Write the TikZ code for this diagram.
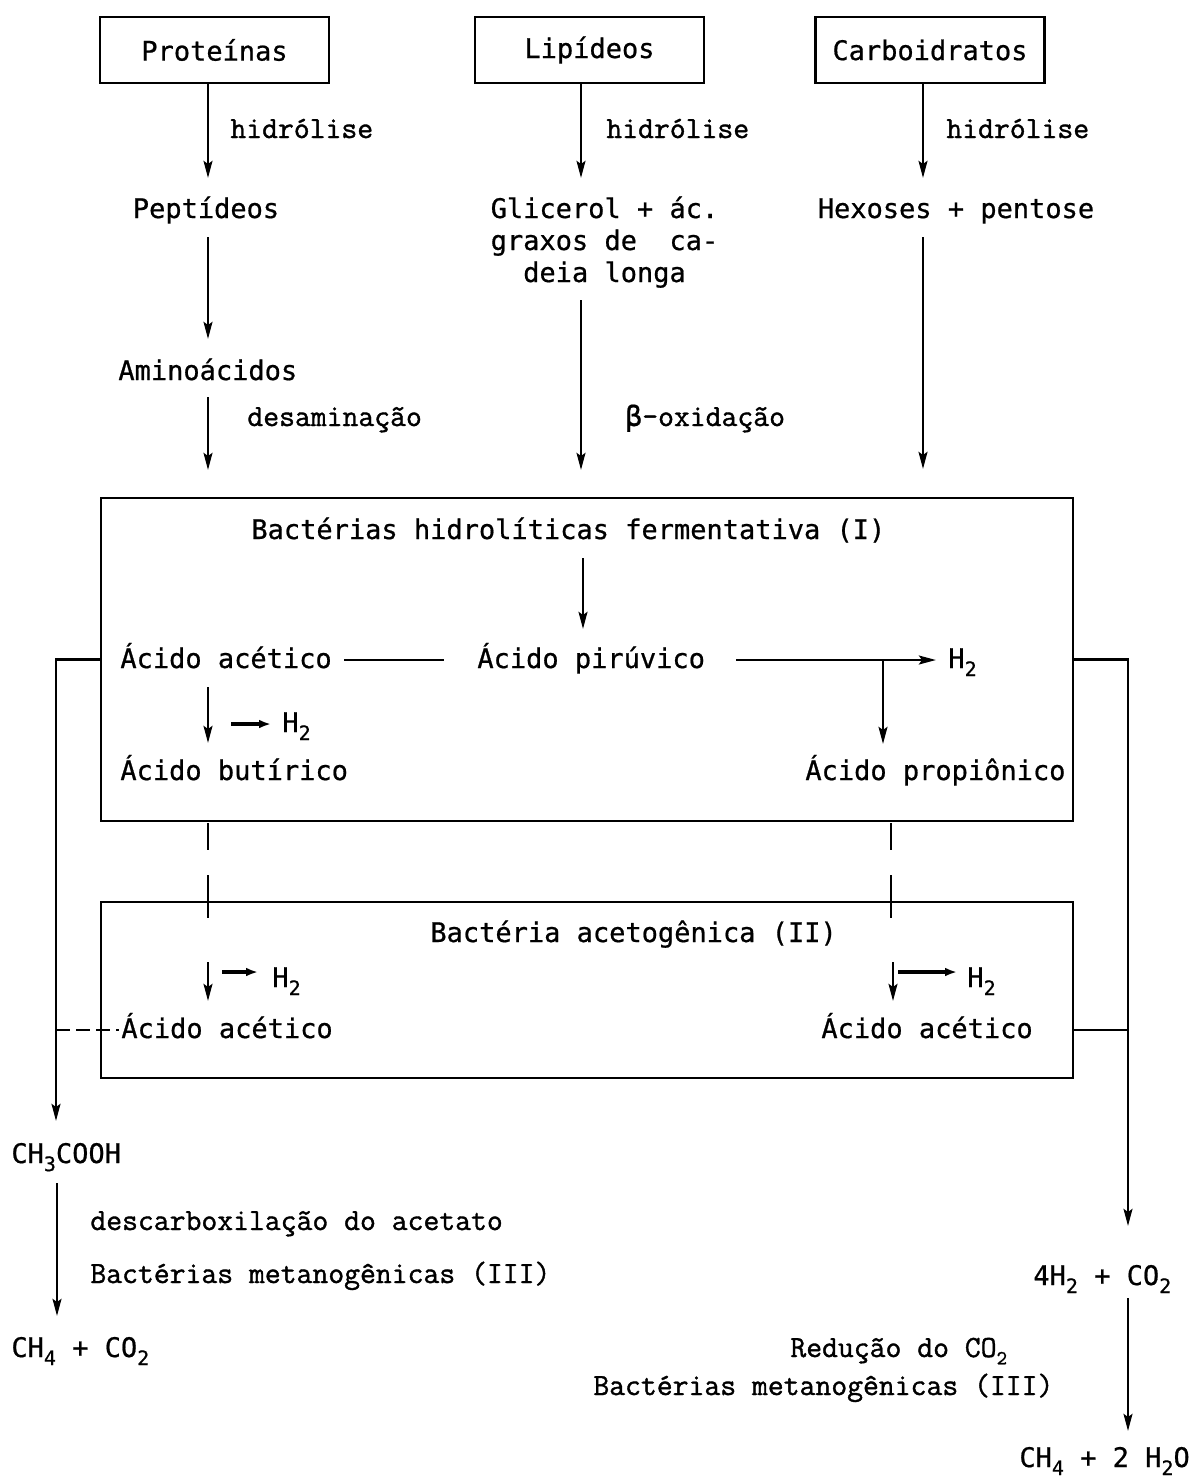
\documentclass[tikz,border=0pt]{standalone}
\usepackage{fontspec}
\newfontfamily\sansmono[FakeBold=0.7]{DejaVu Sans Mono}
\newfontfamily\serifmono[FakeBold=1.2]{Latin Modern Mono}
\usetikzlibrary{arrows.meta}
\newcommand\sbs[1]{\raisebox{-0.55ex}{\fontsize{10}{10}\selectfont #1}}
\newcommand\betachar{{\sansmono\fontsize{14}{16}\selectfont β}}
\begin{document}
\begin{tikzpicture}[x=0.5pt,y=-0.5pt,
  lbl/.style={inner sep=0pt,anchor=base west,font=\sansmono\fontsize{13.5}{16}\selectfont},
  clbl/.style={inner sep=0pt,anchor=base,font=\sansmono\fontsize{13.5}{16}\selectfont},
  slbl/.style={inner sep=0pt,anchor=base west,font=\serifmono\fontsize{15.4}{18}\selectfont},
  topbox/.style={draw,line width=1.3pt,minimum width=114.5pt,minimum height=33pt,inner sep=0pt,
    font=\sansmono\fontsize{13.5}{16}\selectfont},
  bigbox/.style={draw,line width=1.3pt,minimum width=486pt,inner sep=0pt},
  ln/.style={line width=1.3pt},
  arr/.style={line width=1.3pt,-{Stealth[length=8.5pt,width=4.4pt,inset=1.5pt]}},
  sarr/.style={line width=1.6pt,-{Latex[length=6pt,width=4.4pt]}},
  dsh/.style={line width=1.3pt,dash pattern=on 7pt off 3pt},
]
\useasboundingbox (0,0) rectangle (1198,1480);

% top boxes
\node[topbox] (prot) at (214.5,50) {Proteínas};
\node[topbox] (lip)  at (589.5,50) {Lipídeos};
\node[topbox] (carb) at (930,50) {Carboidratos};

% hydrolysis labels
\node[slbl] (h1) at (230,138) {hidrólise};
\node[slbl] (h2) at (606,138) {hidrólise};
\node[slbl] (h3) at (946,138) {hidrólise};

% second level
\node[clbl] (pep) at (206,218) {Peptídeos};
\node[clbl] (gl1) at (604.5,218) {Glicerol + ác.};
\node[clbl] (gl2) at (604.5,250) {graxos de\ \ ca-};
\node[clbl] (gl3) at (604.5,282) {deia longa};
\node[clbl] (hex) at (956,218) {Hexoses + pentose};

\node[lbl] (amino) at (118,380) {Aminoácidos};
\node[slbl] (desam) at (247,426) {desaminação};
\node[slbl] (boxi) at (625,426) {\betachar-oxidação};

% arrow coordinates
\coordinate (t1) at (208,178);
\coordinate (t2) at (581,178);
\coordinate (t3) at (923,178);
\draw[arr] (prot.south -| t1) -- (t1);
\draw[arr] (lip.south -| t2) -- (t2);
\draw[arr] (carb.south -| t3) -- (t3);

\coordinate (p1) at (208,237);
\coordinate (p2) at (208,339);
\draw[arr] (p1) -- (p2);
\coordinate (p3) at (208,397);
\coordinate (p4) at (208,470);
\draw[arr] (p3) -- (p4);
\coordinate (g1) at (581,300);
\coordinate (g2) at (581,470);
\draw[arr] (g1) -- (g2);
\coordinate (x1) at (923,237);
\coordinate (x2) at (923,469);
\draw[arr] (x1) -- (x2);

% Box I
\node[bigbox,minimum height=161.5pt] (b1) at (587,659.5) {};
\node[lbl] (bhf) at (251,539) {Bactérias hidrolíticas fermentativa (I)};
\coordinate (q1) at (583,558);
\coordinate (q2) at (583,629);
\draw[arr] (q1) -- (q2);

\node[lbl] (aac1) at (120,668) {Ácido acético};
\node[lbl] (apir) at (477,668) {Ácido pirúvico};
\node[lbl] (hA) at (948,668) {H\sbs{2}};
\coordinate (m1) at (344,660);
\coordinate (m2) at (444,660);
\draw[ln] (m1) -- (m2);
\coordinate (n1) at (736,660);
\coordinate (n2) at (936,660);
\draw[arr] (n1) -- (n2);
\coordinate (n3) at (883,660);
\coordinate (n4) at (883,744);
\draw[arr] (n3) -- (n4);
\node[lbl] (aprop) at (805,780) {Ácido propiônico};

\coordinate (u1) at (208,687);
\coordinate (u2) at (208,743);
\draw[arr] (u1) -- (u2);
\coordinate (u3) at (231,724);
\coordinate (u4) at (271,724);
\draw[sarr] (u3) -- (u4);
\node[lbl] (hB) at (282,732) {H\sbs{2}};
\node[lbl] (abut) at (120,780) {Ácido butírico};

% dashed links between boxes
\coordinate (d1) at (208,823);
\coordinate (d2) at (208,850);
\coordinate (d3) at (208,875);
\coordinate (d4) at (208,918);
\draw[ln] (d1) -- (d2) (d3) -- (d4);
\coordinate (e1) at (891,823);
\coordinate (e2) at (891,850);
\coordinate (e3) at (891,875);
\coordinate (e4) at (891,918);
\draw[ln] (e1) -- (e2) (e3) -- (e4);

% Box II
\node[bigbox,minimum height=88pt] (b2) at (587,990) {};
\node[lbl] (bac) at (430,942) {Bactéria acetogênica (II)};
\coordinate (v1) at (208,962);
\coordinate (v2) at (208,1001);
\draw[arr] (v1) -- (v2);
\coordinate (v3) at (222,972);
\coordinate (v4) at (258,972);
\draw[sarr] (v3) -- (v4);
\node[lbl] (hC) at (272,987) {H\sbs{2}};
\node[lbl] (aac2) at (121,1038) {Ácido acético};

\coordinate (w1) at (893,962);
\coordinate (w2) at (893,1001);
\draw[arr] (w1) -- (w2);
\coordinate (w3) at (898,972);
\coordinate (w4) at (957,972);
\draw[sarr] (w3) -- (w4);
\node[lbl] (hD) at (967,987) {H\sbs{2}};
\node[lbl] (aac3) at (821,1038) {Ácido acético};

% left collector
\coordinate (lc) at (56,659.5);
\coordinate (lt) at (56,1121);
\draw[arr] (b1.west) -- (lc) -- (lt);
\coordinate (ld1) at (56,1030);
\coordinate (ld2) at (119,1030);
\draw[dsh] (ld1) -- (ld2);

% right collector
\coordinate (rc) at (1128,659.5);
\coordinate (rt) at (1128,1226);
\draw[arr] (b1.east) -- (rc) -- (rt);
\coordinate (rj1) at (1073,1030);
\coordinate (rj2) at (1128,1030);
\draw[ln] (rj1) -- (rj2);

% bottom left
\node[lbl] (ch3) at (11,1163) {CH\sbs{3}COOH};
\coordinate (y1) at (57,1183);
\coordinate (y2) at (57,1316);
\draw[arr] (y1) -- (y2);
\node[slbl] (desc) at (90,1230) {descarboxilação do acetato};
\node[slbl] (bm1) at (90,1283) {Bactérias metanogênicas (III)};
\node[lbl] (ch4a) at (11,1357) {CH\sbs{4} + CO\sbs{2}};

% bottom right
\node[lbl] (h4) at (1033,1285) {4H\sbs{2} + CO\sbs{2}};
\coordinate (z1) at (1128,1298);
\coordinate (z2) at (1128,1431);
\draw[arr] (z1) -- (z2);
\node[slbl] (red) at (790,1357) {Redução do CO\sbs{2}};
\node[slbl] (bm2) at (593,1395) {Bactérias metanogênicas (III)};
\node[lbl] (ch4b) at (1019,1467) {CH\sbs{4} + 2 H\sbs{2}O};
\end{tikzpicture}
\end{document}
